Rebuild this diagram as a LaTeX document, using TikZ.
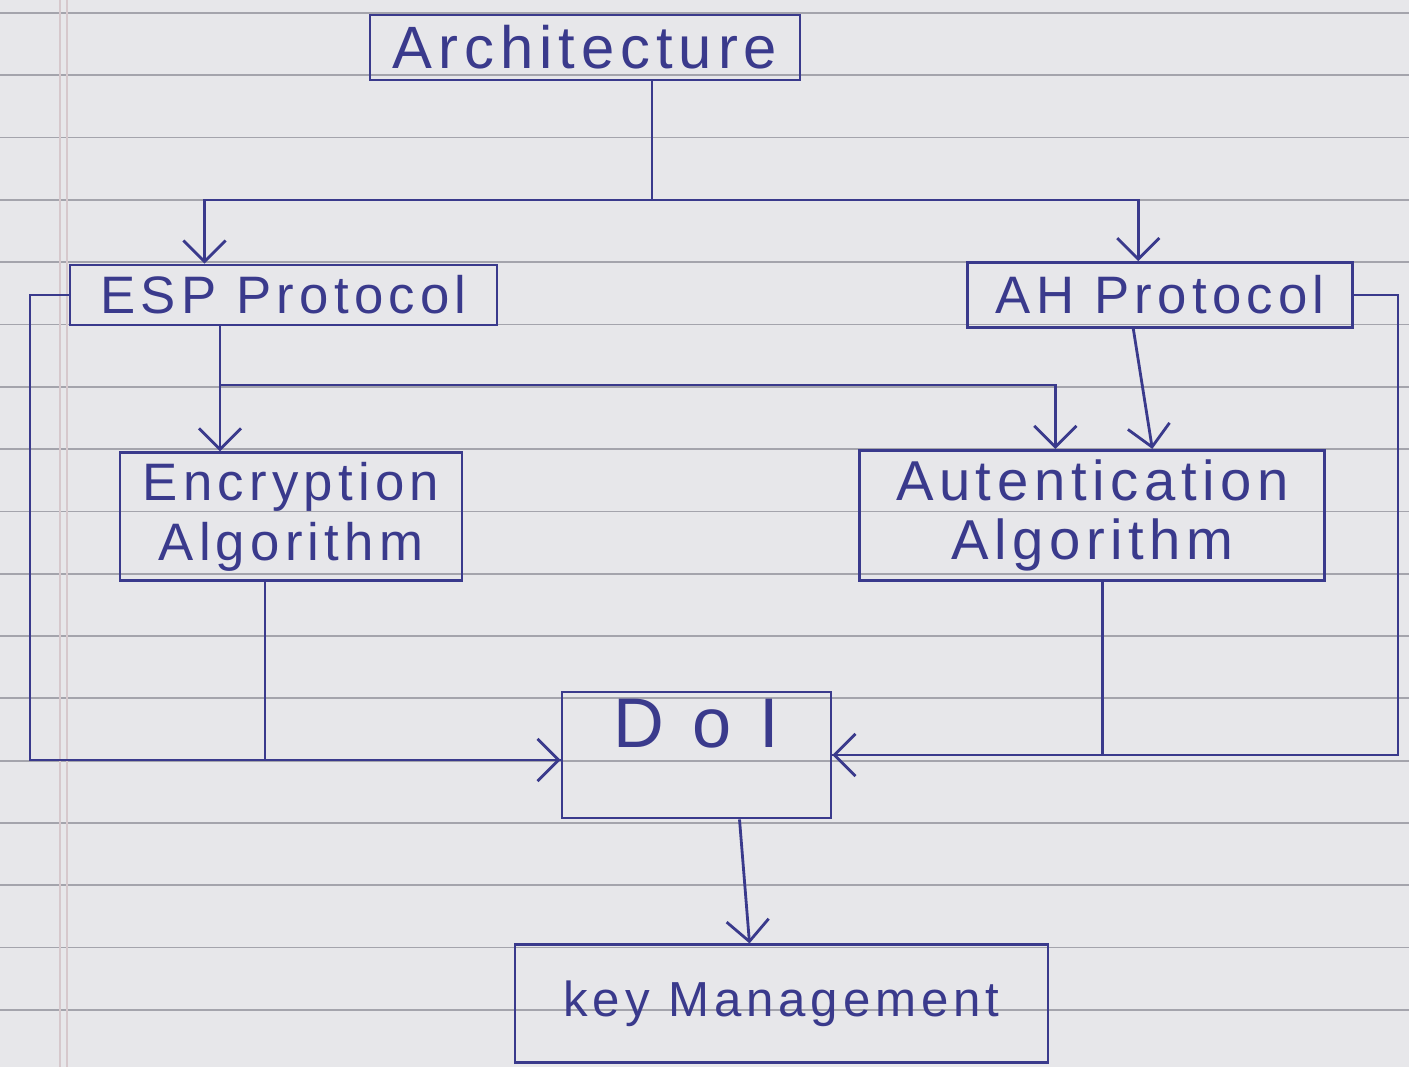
\documentclass[tikz,border=0pt]{standalone}
\usepackage{fontspec}
\usepackage{tikz}
\usetikzlibrary{arrows.meta,positioning}
\newfontfamily\handfont[LetterSpace=10]{Liberation Sans}
\newfontfamily\widehand[LetterSpace=40]{Liberation Sans}
\definecolor{InkBlue}{HTML}{3A3A8C}
\definecolor{PaperGrey}{HTML}{E7E7EA}
\definecolor{RuleGrey}{HTML}{A4A4AC}
\definecolor{MarginPink}{HTML}{D6C8CC}
\tikzset{
  % Base box
  HB/.style={rectangle,draw=InkBlue,thick,inner sep=0pt,
             text centered,align=center,text=InkBlue,
             font=\handfont\fontsize{15}{17}\selectfont},
  % Arrow and plain wire
  arr/.style={-{Straight Barb[length=6pt,width=12pt]},thick,draw=InkBlue},
  wire/.style={thick,draw=InkBlue},
  % Paper lines
  ruled/.style={draw=RuleGrey,line width=0.5pt},
  margin/.style={draw=MarginPink,line width=0.6pt}
}

\begin{document}
\begin{tikzpicture}
  % paper
  \fill[PaperGrey] (0,0) rectangle (14.09,-10.67);
  \useasboundingbox (0,0) rectangle (14.09,-10.67);
  \foreach \k in {0,...,16}
    \draw[ruled] (0,-0.13-0.623*\k) -- (14.09,-0.13-0.623*\k);
  \draw[margin] (0.60,0) -- (0.60,-10.67);
  \draw[margin] (0.67,0) -- (0.67,-10.67);

  \node[HB,minimum width=4.3cm,minimum height=0.65cm,
        font=\handfont\fontsize{17}{19}\selectfont]          (arch) at (5.85,-0.475) {Architecture};
  \node[HB,minimum width=4.27cm,minimum height=0.6cm]        (esp)  at (2.835,-2.95) {ESP Protocol};
  \node[HB,minimum width=3.85cm,minimum height=0.65cm,right=4.68cm of esp] (ah) {AH Protocol};
  \node[HB,minimum width=3.42cm,minimum height=1.28cm,below=1.25cm of esp,xshift=0.075cm] (enc) {Encryption\\Algorithm};
  \node[HB,minimum width=4.65cm,minimum height=1.3cm,below=1.2cm of ah,xshift=-0.68cm,
        font=\handfont\fontsize{16}{17}\selectfont]          (auth) {Autentication\\Algorithm};
  \node[HB,minimum width=2.69cm,text height=0.55cm,text depth=0.71cm,
        font=\widehand\fontsize{20}{22}\selectfont]          (doi)  at (6.965,-7.55) {DoI};
  \node[HB,minimum width=5.33cm,minimum height=1.18cm,below=1.24cm of doi,xshift=0.85cm,
        font=\handfont\fontsize{14}{16}\selectfont]          (keymgmt) {key Management};

  \coordinate (archsplit) at (6.52,-2.0);
  \coordinate (espsplit)  at (2.2,-3.85);
  \coordinate (lftrail)   at (0.3,-7.6);
  \coordinate (rgtrail)   at (13.98,-7.55);

  \draw[wire](arch.south -| archsplit) -- (archsplit);
  \draw[arr](archsplit) -| ([xshift=-0.79cm]esp.north);
  \draw[arr](archsplit) -| ([xshift=-0.22cm]ah.north);
  \draw[wire](esp.south -| espsplit) -- (espsplit);
  \draw[arr](espsplit) -- (espsplit |- enc.north);
  \draw[arr](espsplit) -| ([xshift=-0.37cm]auth.north);
  \draw[arr]([xshift=-0.27cm]ah.south) -- ([xshift=0.6cm]auth.north);
  \draw[arr](esp.west) -| (lftrail) -- ([yshift=-0.05cm]doi.west);
  \draw[wire]([xshift=-0.26cm]enc.south) |- ([yshift=-0.05cm]doi.west);
  \draw[arr](ah.east) -| (rgtrail) -- (doi.east);
  \draw[wire]([xshift=0.1cm]auth.south) |- (doi.east);
  \draw[arr]([xshift=0.43cm]doi.south) -- ([xshift=-0.32cm]keymgmt.north);
\end{tikzpicture}
\end{document}
